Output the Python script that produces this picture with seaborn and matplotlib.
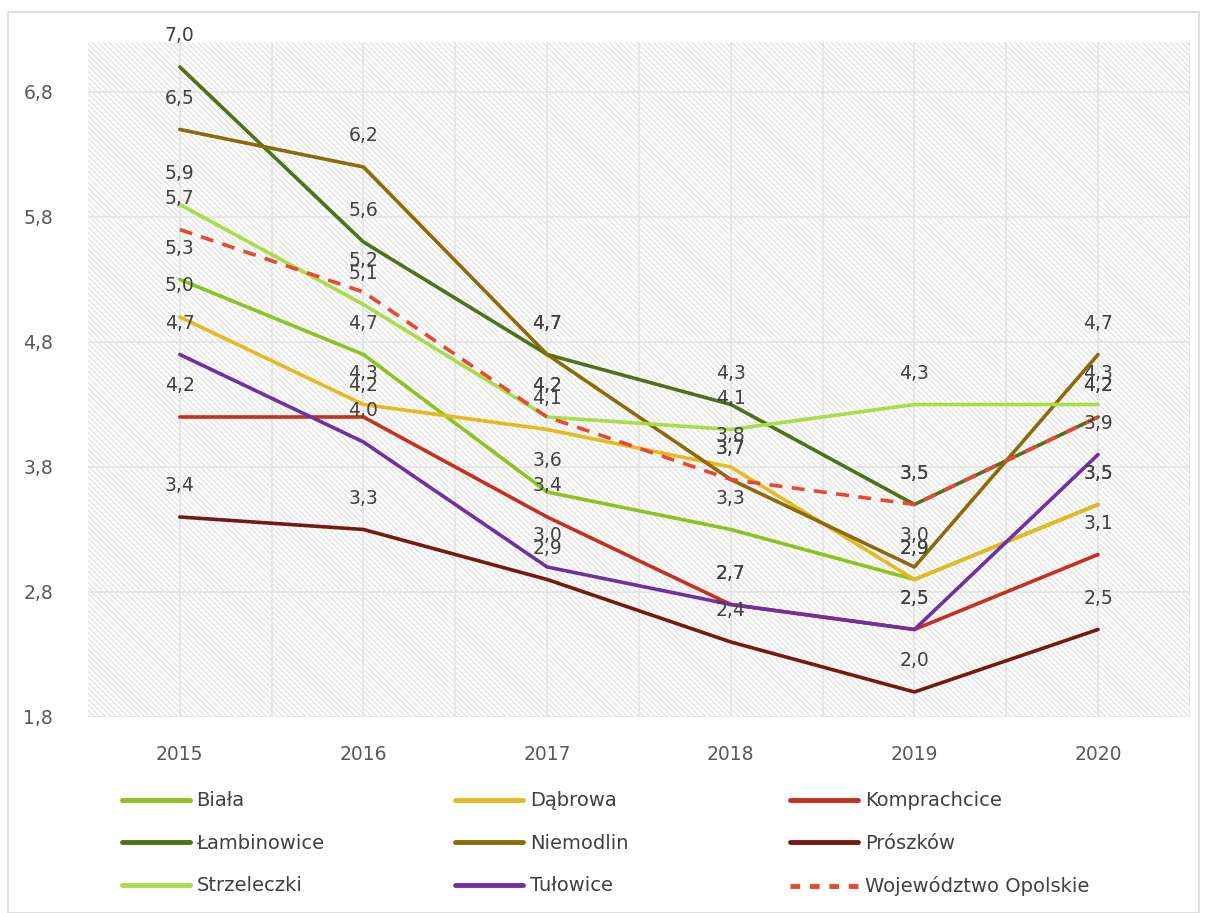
import pandas as pd
import matplotlib.pyplot as plt
import seaborn as sns
from matplotlib.patches import Rectangle
from matplotlib.ticker import FixedLocator

# Values
years = [2015, 2016, 2017, 2018, 2019, 2020]
series_names = ["Biała", "Dąbrowa", "Komprachcice",
                "Łambinowice", "Niemodlin", "Prószków",
                "Strzeleczki", "Tułowice", "Województwo Opolskie"]
biala = [5.3, 4.7, 3.6, 3.3, 2.9, 3.5]
dabrowa = [5.0, 4.3, 4.1, 3.8, 2.9, 3.5]
komprachcice = [4.2, 4.2, 3.4, 2.7, 2.5, 3.1]
lambinowice = [7.0, 5.6, 4.7, 4.3, 3.5, 4.2]
niemodlin = [6.5, 6.2, 4.7, 3.7, 3.0, 4.7]
proszkow = [3.4, 3.3, 2.9, 2.4, 2.0, 2.5]
strzeleczki = [5.9, 5.1, 4.2, 4.1, 4.3, 4.3]
tulowice = [4.7, 4.0, 3.0, 2.7, 2.5, 3.9]
wojewodztwo = [5.7, 5.2, 4.2, 3.7, 3.5, 4.2]
y_ticks = [1.8, 2.8, 3.8, 4.8, 5.8, 6.8]

colors = ["#8DC21F", "#E6B91E", "#C8301E",
          "#4E7119", "#8B6A0A", "#751A12",
          "#A9DC48", "#7030A0", "#E8482F"]

all_values = [biala, dabrowa, komprachcice, lambinowice, niemodlin,
              proszkow, strzeleczki, tulowice, wojewodztwo]
df = pd.DataFrame({
    "rok": years * len(series_names),
    "gmina": [n for n in series_names for _ in years],
    "wartosc": [v for vals in all_values for v in vals],
})

sns.set_style("white")
plt.rcParams["font.family"] = ["DejaVu Sans"]
plt.rcParams["hatch.color"] = "#dedede"
plt.rcParams["hatch.linewidth"] = 0.8

fig = plt.figure(figsize=(12.05, 9.13), dpi=100)
ax = fig.add_axes([0.073, 0.2147, 0.9145, 0.7393])

palette = dict(zip(series_names, colors))
dashes = {n: "" for n in series_names}
dashes["Województwo Opolskie"] = (3.6, 2.6)

sns.lineplot(
    data=df, x="rok", y="wartosc", hue="gmina", style="gmina",
    hue_order=series_names, style_order=series_names,
    palette=palette, dashes=dashes, linewidth=2.6,
    legend=False, ax=ax, sort=False,
)

# data labels above points
for name, vals in zip(series_names, all_values):
    for x, v in zip(years, vals):
        ax.annotate(f"{v:.1f}".replace(".", ","), (x, v),
                    xytext=(0, 31), textcoords="offset pixels",
                    ha="center", va="center", fontsize=13.5,
                    color="#404040", zorder=5)

ax.set_xlim(2014.5, 2020.5)
ax.set_ylim(1.8, 7.2)
ax.set_xticks(years)
ax.xaxis.set_minor_locator(FixedLocator([y + 0.5 for y in years]))
ax.set_yticks(y_ticks)
ax.set_yticklabels([f"{t:.1f}".replace(".", ",") for t in y_ticks])
ax.set_xlabel("")
ax.set_ylabel("")
ax.tick_params(axis="both", which="both", length=0, labelsize=13.5,
               labelcolor="#595959")
ax.tick_params(axis="y", pad=25)
ax.tick_params(axis="x", pad=20)
ax.grid(True, which="both", axis="x", color="#e3e3e3", linewidth=1.2)
ax.grid(True, which="major", axis="y", color="#e3e3e3", linewidth=1.2)
ax.set_axisbelow(True)
for s in ax.spines.values():
    s.set_visible(False)

# hatched plot area
ax.patch.set_facecolor("white")
ax.patch.set_hatch("\\\\\\\\\\\\")
ax.patch.set_edgecolor("#dedede")
ax.patch.set_linewidth(0)

# legend: three columns, row-major order like the source
handles = [plt.Line2D([], [], color=c, linewidth=3.5,
                      linestyle=(0, (2, 2)) if n == "Województwo Opolskie" else "-")
           for n, c in zip(series_names, colors)]
col_x = [0.0864, 0.3634, 0.6414]
for i in range(3):
    leg = fig.legend(
        handles[i::3], series_names[i::3],
        loc="upper left", bbox_to_anchor=(col_x[i], 0.1524),
        frameon=False, fontsize=14, handlelength=3.5, handletextpad=0.35,
        labelspacing=1.21, labelcolor="#404040",
    )

fig.patches.append(Rectangle((0.007, 0.0), 0.988, 0.987,
                             transform=fig.transFigure, fill=False,
                             edgecolor="#d9d9d9", linewidth=1.2))

fig.savefig("out.png", dpi=100)
